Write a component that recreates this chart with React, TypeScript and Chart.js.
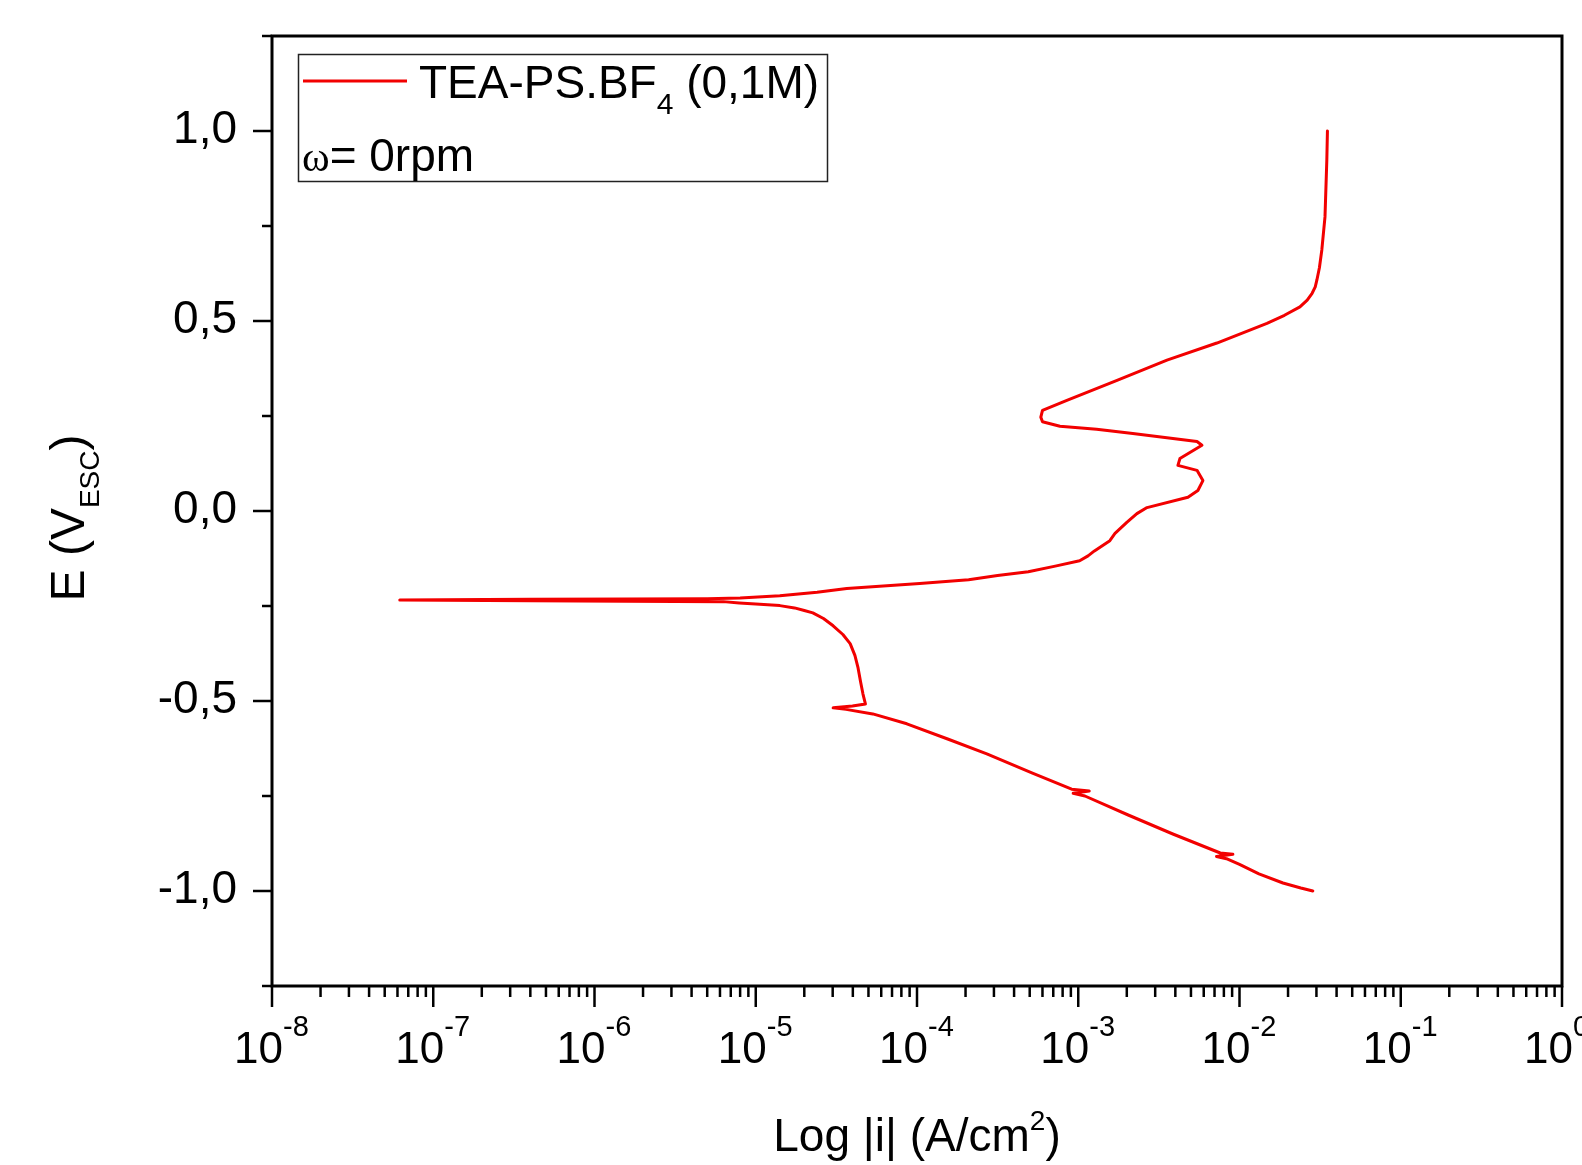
import React, { useEffect, useRef } from 'react';
import { Chart, registerables } from 'chart.js';

Chart.register(...registerables);

// Potential (V vs ESC) along the scan, cathodic end first
const potentialV = [
  -1.0, -0.992, -0.979, -0.955, -0.93, -0.915, -0.909, -0.903, -0.9, -0.85,
  -0.8, -0.75, -0.743, -0.737, -0.732, -0.69, -0.639, -0.6, -0.56, -0.534,
  -0.522, -0.518, -0.513, -0.508, -0.481, -0.45, -0.413, -0.38, -0.349, -0.325,
  -0.302, -0.283, -0.268, -0.262, -0.255, -0.249, -0.245, -0.242, -0.2385, -0.2375,
  -0.2365, -0.234,
  -0.2325, -0.2315, -0.231, -0.229, -0.223, -0.214, -0.204, -0.191, -0.181, -0.17,
  -0.16, -0.145, -0.131, -0.118, -0.105, -0.078, -0.059, -0.03, -0.007, 0.009,
  0.036, 0.054, 0.08, 0.107, 0.12, 0.138, 0.173, 0.183, 0.204, 0.215,
  0.223, 0.235, 0.247, 0.265, 0.291, 0.344, 0.397, 0.442, 0.494, 0.515,
  0.537, 0.555, 0.573, 0.59, 0.608, 0.64, 0.687, 0.774, 0.924, 1.0,
];

// |i| (A/cm²) matching each potential
const currentDensity = [
  2.85e-2, 2.4e-2, 1.86e-2, 1.32e-2, 1.0e-2, 8.3e-3, 7.2e-3, 9.1e-3, 7.6e-3, 3.86e-3,
  2.04e-3, 1.1e-3, 9.3e-4, 1.17e-3, 9.1e-4, 5.2e-4, 2.71e-4, 1.55e-4, 8.65e-5, 5.32e-5,
  3.63e-5, 3.02e-5, 3.98e-5, 4.79e-5, 4.62e-5, 4.47e-5, 4.31e-5, 4.12e-5, 3.85e-5, 3.47e-5,
  3.02e-5, 2.63e-5, 2.26e-5, 2.0e-5, 1.74e-5, 1.41e-5, 1.0e-5, 7.9e-6, 6.3e-6, 1.58e-6,
  3.98e-7, 6.2e-8,
  3.98e-7, 1.58e-6, 5.0e-6, 8.0e-6, 1.41e-5, 2.4e-5, 3.67e-5, 1.04e-4, 2.09e-4, 3.16e-4,
  4.9e-4, 7.2e-4, 1.02e-3, 1.15e-3, 1.26e-3, 1.57e-3, 1.69e-3, 2.0e-3, 2.31e-3, 2.67e-3,
  4.79e-3, 5.52e-3, 5.93e-3, 5.45e-3, 4.15e-3, 4.27e-3, 5.85e-3, 5.45e-3, 2.18e-3, 1.3e-3,
  7.7e-4, 6.0e-4, 5.86e-4, 6.0e-4, 8.5e-4, 1.74e-3, 3.55e-3, 7.24e-3, 1.48e-2, 1.9e-2,
  2.37e-2, 2.63e-2, 2.82e-2, 2.95e-2, 3.02e-2, 3.13e-2, 3.24e-2, 3.39e-2, 3.48e-2, 3.51e-2,
];

const yMajorTicks = [-1, -0.5, 0, 0.5, 1];
const yMajorLabels = ['-1,0', '-0,5', '0,0', '0,5', '1,0'];
const yMinorTicks = [-1.25, -0.75, -0.25, 0.25, 0.75, 1.25];
const xDecades = [1e-8, 1e-7, 1e-6, 1e-5, 1e-4, 1e-3, 1e-2, 1e-1, 1];
const xDecadeExponents = ['-8', '-7', '-6', '-5', '-4', '-3', '-2', '-1', '0'];
const xMinorMultipliers = [2, 3, 4, 5, 6, 7, 8, 9];

const seriesName = 'TEA-PS.BF';
const seriesSub = '4';
const seriesSuffix = ' (0,1M)';
const omegaSymbol = 'ω';
const omegaText = '= 0rpm';
const xTitleParts = ['Log |i| (A/cm', '2', ')'];
const yTitleParts = ['E (V', 'ESC', ')'];

const SANS = '"Liberation Sans", Arial, sans-serif';
const SERIF = '"Liberation Serif", "Times New Roman", serif';
const RED = '#f20000';

type Run = { text: string; size: number; dy: number; family?: string };

function drawRuns(ctx: CanvasRenderingContext2D, runs: Run[], x: number, y: number, align: 'left' | 'center') {
  ctx.textAlign = 'left';
  ctx.textBaseline = 'alphabetic';
  let total = 0;
  const widths = runs.map((r) => {
    ctx.font = `${r.size}px ${r.family || SANS}`;
    const w = ctx.measureText(r.text).width;
    total += w;
    return w;
  });
  let cx = align === 'center' ? x - total / 2 : x;
  runs.forEach((r, i) => {
    ctx.font = `${r.size}px ${r.family || SANS}`;
    ctx.fillText(r.text, cx, y + r.dy);
    cx += widths[i];
  });
}

const framePlugin = {
  id: 'framePlugin',
  afterDraw(chart: any) {
    const { ctx, chartArea, scales } = chart;
    const { left, right, top, bottom } = chartArea;
    const xs = scales.x;
    const ys = scales.y;
    ctx.save();
    ctx.strokeStyle = '#000';
    ctx.fillStyle = '#000';
    ctx.lineCap = 'butt';

    // frame
    ctx.lineWidth = 3;
    ctx.strokeRect(left, top, right - left, bottom - top);

    // y ticks
    ctx.lineWidth = 2.5;
    yMajorTicks.forEach((v) => {
      const py = ys.getPixelForValue(v);
      ctx.beginPath();
      ctx.moveTo(left - 19, py);
      ctx.lineTo(left, py);
      ctx.stroke();
    });
    yMinorTicks.forEach((v) => {
      const py = ys.getPixelForValue(v);
      ctx.beginPath();
      ctx.moveTo(left - 10, py);
      ctx.lineTo(left, py);
      ctx.stroke();
    });

    // x ticks
    xDecades.forEach((d, i) => {
      const px = xs.getPixelForValue(d);
      ctx.beginPath();
      ctx.moveTo(px, bottom);
      ctx.lineTo(px, bottom + 21);
      ctx.stroke();
      if (i < xDecades.length - 1) {
        xMinorMultipliers.forEach((m) => {
          const mx = xs.getPixelForValue(m * d);
          ctx.beginPath();
          ctx.moveTo(mx, bottom);
          ctx.lineTo(mx, bottom + 11);
          ctx.stroke();
        });
      }
    });

    // y tick labels
    ctx.font = `46px ${SANS}`;
    ctx.textAlign = 'right';
    ctx.textBaseline = 'alphabetic';
    yMajorTicks.forEach((v, i) => {
      const py = ys.getPixelForValue(v);
      ctx.fillText(yMajorLabels[i], left - 35, py + 11.5);
    });

    // x tick labels (10 with superscript exponent)
    xDecades.forEach((d, i) => {
      const px = xs.getPixelForValue(d);
      ctx.font = `44px ${SANS}`;
      ctx.textAlign = 'right';
      ctx.fillText('10', px + 11, bottom + 77);
      ctx.font = `29px ${SANS}`;
      ctx.textAlign = 'left';
      ctx.fillText(xDecadeExponents[i], px + 11, bottom + 50);
    });

    // x title
    drawRuns(ctx, [
      { text: xTitleParts[0], size: 46, dy: 0 },
      { text: xTitleParts[1], size: 28, dy: -21 },
      { text: xTitleParts[2], size: 46, dy: 0 },
    ], (left + right) / 2, 1151, 'center');

    // y title (rotated)
    ctx.save();
    ctx.translate(84, (top + bottom) / 2 + 7);
    ctx.rotate(-Math.PI / 2);
    drawRuns(ctx, [
      { text: yTitleParts[0], size: 48, dy: 0 },
      { text: yTitleParts[1], size: 28, dy: 15 },
      { text: yTitleParts[2], size: 48, dy: 0 },
    ], 0, 0, 'center');
    ctx.restore();

    // legend box
    ctx.lineWidth = 1.5;
    ctx.strokeStyle = '#222';
    ctx.strokeRect(298.5, 54.5, 529, 127);
    ctx.strokeStyle = RED;
    ctx.lineWidth = 3;
    ctx.beginPath();
    ctx.moveTo(303, 81);
    ctx.lineTo(407, 81);
    ctx.stroke();
    ctx.fillStyle = '#000';
    drawRuns(ctx, [
      { text: seriesName, size: 46, dy: 0 },
      { text: seriesSub, size: 30, dy: 16 },
      { text: seriesSuffix, size: 46, dy: 0 },
    ], 419, 98, 'left');
    drawRuns(ctx, [
      { text: omegaSymbol, size: 42, dy: 0, family: SERIF },
      { text: omegaText, size: 46, dy: 0 },
    ], 302, 171, 'left');

    ctx.restore();
  },
};

export default function App() {
  const canvasRef = useRef<HTMLCanvasElement | null>(null);

  useEffect(() => {
    const canvas = canvasRef.current;
    if (!canvas) return;
    const points = potentialV.map((e, i) => ({ x: currentDensity[i], y: e }));
    const chart = new Chart(canvas, {
      type: 'scatter',
      data: {
        datasets: [
          {
            label: seriesName + seriesSub + seriesSuffix,
            data: points,
            showLine: true,
            borderColor: RED,
            backgroundColor: RED,
            borderWidth: 3,
            borderJoinStyle: 'round',
            borderCapStyle: 'round',
            pointRadius: 0,
            pointHoverRadius: 0,
            tension: 0,
          },
        ],
      },
      options: {
        animation: false,
        responsive: false,
        devicePixelRatio: 1,
        layout: { padding: { left: 272, top: 36, right: 20, bottom: 179 } },
        plugins: {
          legend: { display: false },
          tooltip: { enabled: false },
        },
        scales: {
          x: { type: 'logarithmic', min: 1e-8, max: 1, display: false },
          y: { type: 'linear', min: -1.25, max: 1.25, display: false },
        },
      },
      plugins: [framePlugin],
    });
    return () => chart.destroy();
  }, []);

  return (
    <div style={{ position: 'fixed', left: 0, top: 0, width: 1582, height: 1165, background: '#fff' }}>
      <canvas ref={canvasRef} width={1582} height={1165} style={{ display: 'block' }} />
    </div>
  );
}
